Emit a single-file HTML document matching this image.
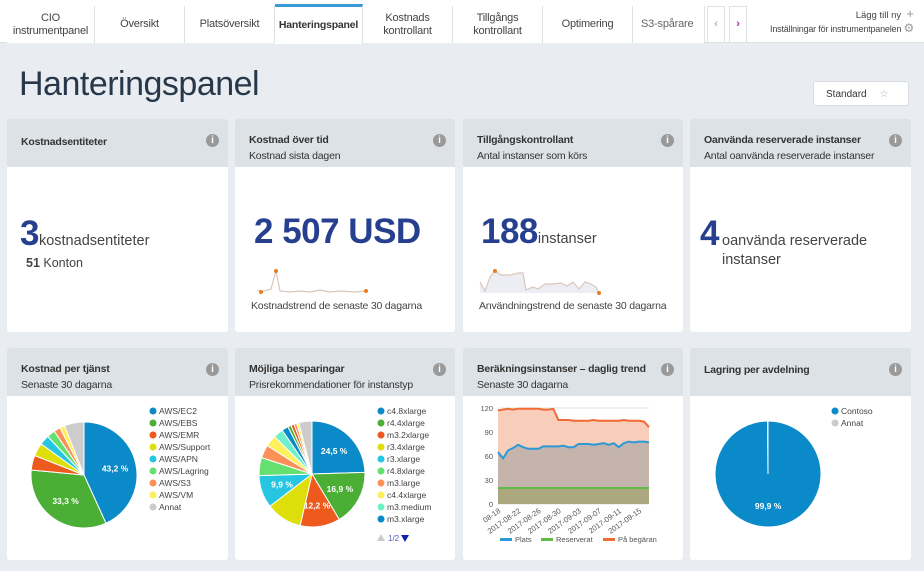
<!DOCTYPE html>
<html><head><meta charset="utf-8"><style>
*{box-sizing:border-box;margin:0;padding:0}
body{width:924px;height:571px;overflow:hidden;background:#e9edf1;font-family:"Liberation Sans",sans-serif;position:relative;color:#333}
.abs{position:absolute}
.tab{position:absolute;top:6px;height:37px;background:#fff;border-right:1px solid #dde2e6;font-size:11px;letter-spacing:-0.2px;color:#444;text-align:center;display:flex;align-items:center;justify-content:center;line-height:13px;white-space:nowrap}
.card{position:absolute;background:#fff;border-radius:3px;overflow:hidden}
.hd{position:absolute;left:0;top:0;right:0;height:48px;background:#dde2e6;padding:13px 14px;font-size:10.5px;letter-spacing:-0.2px;line-height:16px;white-space:nowrap}
.hd b{color:#333}
.info{position:absolute;right:9px;top:15px;width:13px;height:13px;border-radius:50%;background:#999;color:#fff;font-size:10px;font-weight:bold;text-align:center;line-height:13px}
.big{color:#263f8f;font-weight:bold;font-size:35px;letter-spacing:-0.5px}
.cap{font-size:10.5px;color:#444;letter-spacing:-0.2px;white-space:nowrap}
</style></head><body>
<div class="abs" style="left:0;top:0;width:924px;height:43px;background:#fff;border-bottom:1px solid #dde2e6"></div>
<div class="tab" style="left:7px;width:88px">CIO<br>instrumentpanel</div>
<div class="tab" style="left:95px;width:90px">Översikt</div>
<div class="tab" style="left:185px;width:90px">Platsöversikt</div>
<div class="tab" style="left:275px;width:88px;top:4px;height:40px;border-top:3px solid #3a9ad9;font-weight:bold;color:#333;font-size:10.5px">Hanteringspanel</div>
<div class="tab" style="left:363px;width:90px">Kostnads<br>kontrollant</div>
<div class="tab" style="left:453px;width:90px">Tillgångs<br>kontrollant</div>
<div class="tab" style="left:543px;width:90px">Optimering</div>
<div class="tab" style="left:633px;width:72px;justify-content:flex-start;padding-left:8px;color:#666;overflow:hidden">S3-spårare</div>
<div class="tab" style="left:707px;width:18px;border:1px solid #dde2e6;color:#999">‹</div>
<div class="tab" style="left:729px;width:18px;border:1px solid #dde2e6;color:#a0309a;font-weight:bold">›</div>
<div class="abs" style="right:10px;top:6px;font-size:9.5px;color:#444">Lägg till ny &nbsp;<span style="color:#999;font-size:13px">+</span></div>
<div class="abs" style="right:10px;top:21px;font-size:9px;letter-spacing:-0.2px;color:#444">Inställningar för instrumentpanelen <span style="color:#999;font-size:12px">⚙</span></div>
<div class="abs" style="left:19px;top:65px;font-size:34px;letter-spacing:-0.5px;color:#27384a">Hanteringspanel</div>
<div class="abs" style="left:813px;top:81px;width:96px;height:25px;background:#fff;border:1px solid #d8dde2;border-radius:3px;font-size:10px;color:#333;padding:7px 12px">Standard <span style="color:#aaa;margin-left:10px">☆</span></div>

<div class="card" style="left:7px;top:119px;width:221px;height:213px">
<div class="hd" style="padding-top:15px"><b>Kostnadsentiteter</b></div><div class="info">i</div>
<div class="abs" style="left:13px;top:95px"><span class="big">3</span><span style="font-size:14.5px;color:#444">kostnadsentiteter</span></div>
<div class="abs" style="left:19px;top:137px;font-size:12.5px;color:#444"><b>51</b> Konton</div></div>

<div class="card" style="left:235px;top:119px;width:220px;height:213px">
<div class="hd"><b>Kostnad över tid</b><br>Kostnad sista dagen</div><div class="info">i</div>
<div class="abs big" style="left:19px;top:93px">2 507 USD</div>
<svg class="abs" style="left:0;top:0" width="220" height="213"><polyline fill="none" stroke="#d9c7bd" stroke-width="1.2" points="22,171 26,173 36,170 41,152 45,172 55,173 65,172 75,173 85,171 95,173 105,172 120,173 131,172"/><circle cx="26" cy="173" r="2" fill="#e67e22"/><circle cx="41" cy="152" r="2" fill="#e67e22"/><circle cx="131" cy="172" r="2" fill="#e67e22"/></svg>
<div class="abs cap" style="left:16px;top:181px">Kostnadstrend de senaste 30 dagarna</div></div>

<div class="card" style="left:463px;top:119px;width:220px;height:213px">
<div class="hd"><b>Tillgångskontrollant</b><br>Antal instanser som körs</div><div class="info">i</div>
<div class="abs" style="left:18px;top:93px"><span class="big">188</span><span style="font-size:14.5px;color:#444">instanser</span></div>
<svg class="abs" style="left:0;top:0" width="220" height="213"><polygon fill="#eceef3" points="17,163 22,172 27,158 32,152 38,156 48,156 55,154 60,154 63,171 70,168 75,170 82,165 90,165 98,164 104,167 110,163 116,170 122,163 128,165 133,168 136,174 17,174"/><polyline fill="none" stroke="#d9c7bd" stroke-width="1.2" points="17,163 22,172 27,158 32,152 38,156 48,156 55,154 60,154 63,171 70,168 75,170 82,165 90,165 98,164 104,167 110,163 116,170 122,163 128,165 133,168 136,174"/><circle cx="32" cy="152" r="2" fill="#e67e22"/><circle cx="136" cy="174" r="2" fill="#e67e22"/></svg>
<div class="abs cap" style="left:16px;top:181px">Användningstrend de senaste 30 dagarna</div></div>

<div class="card" style="left:690px;top:119px;width:221px;height:213px">
<div class="hd"><b>Oanvända reserverade instanser</b><br>Antal oanvända reserverade instanser</div><div class="info">i</div>
<div class="abs" style="left:10px;top:95px"><span class="big">4</span></div>
<div class="abs" style="left:32px;top:113px;font-size:14.5px;color:#444;line-height:19px">oanvända reserverade<br>instanser</div></div>

<div class="card" style="left:7px;top:348px;width:221px;height:212px">
<div class="hd"><b>Kostnad per tjänst</b><br>Senaste 30 dagarna</div><div class="info">i</div></div>
<div class="card" style="left:235px;top:348px;width:220px;height:212px">
<div class="hd"><b>Möjliga besparingar</b><br>Prisrekommendationer för instanstyp</div><div class="info">i</div></div>
<div class="card" style="left:463px;top:348px;width:220px;height:212px">
<div class="hd"><b>Beräkningsinstanser – daglig trend</b><br>Senaste 30 dagarna</div><div class="info">i</div></div>
<div class="card" style="left:690px;top:348px;width:221px;height:212px">
<div class="hd" style="padding-top:14px"><b style="line-height:14px;display:block;margin-top:1px">Lagring per avdelning</b></div><div class="info">i</div></div>

<svg id="charts" class="abs" style="left:0;top:0" width="924" height="571" font-family="Liberation Sans, sans-serif"></svg>
<script>
const pie1Labels=["AWS/EC2","AWS/EBS","AWS/EMR","AWS/Support","AWS/APN","AWS/Lagring","AWS/S3","AWS/VM","Annat"];
const pie1Values=[43.2,33.3,4.5,4,3,2.5,2,1.5,6];
const pie2Labels=["c4.8xlarge","r4.4xlarge","m3.2xlarge","r3.4xlarge","r3.xlarge","r4.8xlarge","m3.large","c4.4xlarge","m3.medium","m3.xlarge","a","b","c","d","e"];
const pie2Values=[24.5,16.9,12.2,11,9.9,5.5,4,3.5,3,2,1,1,0.8,0.7,4];
const pie3Labels=["Contoso","Annat"];
const pie3Values=[99.9,0.1];
const dates=["08-18","2017-08-22","2017-08-26","2017-08-30","2017-09-03","2017-09-07","2017-09-11","2017-09-15"];
const yTicks=[0,30,60,90,120];
const plats=[65,57,67,70,74,71,69,69,69,72,72,72,72,73,71,71,75,75,75,74,75,76,74,76,71,76,78,77,78,78,77];
const reserverat=[20,20,20,20,20,20,20,20,20,20,20,20,20,20,20,20,20,20,20,20,20,20,20,20,20,20,20,20,20,20,20];
const paBegaran=[117,118,119,118,119,119,119,119,119,118,118,119,105,105,105,104,104,104,104,105,104,104,104,104,104,105,104,104,104,103,96];
const colors=["#0a8ac8","#4caf35","#ee5a1e","#dede0a","#26c6e2","#65e06e","#fb9058","#fdf05a","#cccccc"];
const colors2=["#0a8ac8","#4caf35","#ee5a1e","#dede0a","#26c6e2","#65e06e","#fb9058","#fdf05a","#6ef0c8","#0a8ac8","#4caf35","#ee5a1e","#fb9058","#fdf05a","#cccccc"];
const NS="http://www.w3.org/2000/svg";
const svg=document.getElementById('charts');
function mk(t,a,p){const e=document.createElementNS(NS,t);for(const k in a)e.setAttribute(k,a[k]);(p||svg).appendChild(e);return e;}
function pie(name,cx,cy,r,vals,cols,labelIdx){
 const tot=vals.reduce((a,b)=>a+b,0);let a0=-Math.PI/2;
 vals.forEach((v,i)=>{const a1=a0+v/tot*2*Math.PI;
  const x0=cx+r*Math.cos(a0),y0=cy+r*Math.sin(a0),x1=cx+r*Math.cos(a1),y1=cy+r*Math.sin(a1);
  const d=v/tot>=0.9999?`M${cx-r},${cy}A${r},${r} 0 1 1 ${cx+r},${cy}A${r},${r} 0 1 1 ${cx-r},${cy}Z`:`M${cx},${cy}L${x0},${y0}A${r},${r} 0 ${a1-a0>Math.PI?1:0} 1 ${x1},${y1}Z`;
  const p=mk('path',{d:d,fill:cols[i],stroke:'#fff','stroke-width':1});
  
  
  if(labelIdx.includes(i)){const am=(a0+a1)/2;const t=mk('text',{x:cx+r*0.6*Math.cos(am),y:cy+r*0.6*Math.sin(am)+3,'font-size':8.5,fill:'#fff','font-weight':'bold','text-anchor':'middle'});t.textContent=v.toFixed(1).replace('.',',')+' %';}
  a0=a1;});
}
function legend(name,x,y,labels,cols){labels.forEach((l,i)=>{
 mk('circle',{cx:x,cy:y+i*12,r:3.5,fill:cols[i]});
 const t=mk('text',{x:x+6,y:y+i*12+3,'font-size':8.5,fill:'#444'});t.textContent=l;
 
 });}
pie('cost-pie',84,475,53,pie1Values,colors,[0,1]);
legend('cost',153,411,pie1Labels,colors);
pie('savings-pie',312,474,53,pie2Values,colors2,[0,1,2,4]);
legend('savings',381,411,pie2Labels.slice(0,10),colors2);
mk('polygon',{points:'377,541 385,541 381,534',fill:'#ccc'});
let pg=mk('text',{x:388,y:541,'font-size':8,fill:'#5060c0'});pg.textContent='1/2';
mk('polygon',{points:'401,535 409,535 405,542',fill:'#1020b0'});
pie('storage-pie',768,474,53,pie3Values,["#0a8ac8","#cccccc"],[0]);
legend('storage',835,411,pie3Labels,["#0a8ac8","#cccccc"]);
const X0=498,X1=649,Y0=504,Y1=408;
const xs=i=>X0+i*(X1-X0)/(plats.length-1);
const ys=v=>Y0-v/120*(Y0-Y1);
yTicks.forEach(v=>{mk('line',{x1:X0,x2:X1,y1:ys(v),y2:ys(v),stroke:'#e3e3e3'});const t=mk('text',{x:X0-5,y:ys(v)+3,'font-size':7.5,fill:'#555','text-anchor':'end'});t.textContent=v;});
function area(arr,fill,stroke,name){
 const pts=arr.map((v,i)=>xs(i)+','+ys(v)).join(' ');
 mk('polygon',{points:`${X0},${Y0} ${pts} ${X1},${Y0}`,fill:fill});
 const l=mk('polyline',{points:pts,fill:'none',stroke:stroke,'stroke-width':2});
 
 }
area(paBegaran,'#f8cdb9','#f26a35','line-pa-begaran');
area(plats,'#c4b4ab','#2b9ad6','line-plats');
area(reserverat,'#aba77f','#5fbd45','line-reserverat');
dates.forEach((d,k)=>{const x=xs(k*4);const t=mk('text',{x:x+3,y:Y0+8,'font-size':7.5,fill:'#555','text-anchor':'end',transform:`rotate(-35 ${x+3} ${Y0+8})`});t.textContent=d;});
[["Plats","#2b9ad6",500],["Reserverat","#5fbd45",541],["På begäran","#f26a35",603]].forEach(l=>{
 mk('rect',{x:l[2],y:538,width:12,height:3,fill:l[1]});const t=mk('text',{x:l[2]+15,y:542,'font-size':7.5,fill:'#555'});t.textContent=l[0];
 
 });
</script>
</body></html>
